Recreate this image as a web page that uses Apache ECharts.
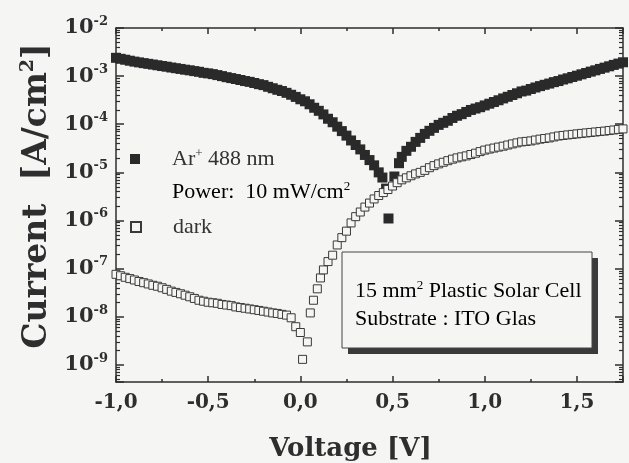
<!DOCTYPE html>
<html>
<head>
<meta charset="utf-8">
<style>
  html, body { margin: 0; padding: 0; background: #f5f5f3; }
  #chart-container { width: 629px; height: 463px; }
</style>
</head>
<body>
<div id="chart-container"></div>
<script src="https://cdn.jsdelivr.net/npm/echarts@6.0.0/dist/echarts.min.js"></script>
<script>
const bg = "#f5f5f3"
const ink = "#2e2e2e"
const boldFont = "DejaVu Serif"
const plainFont = "Liberation Serif"

// axis ranges and tick values
const xRange = [-1.0, 1.75]
const xMajorTicks = [-1.0, -0.5, 0.0, 0.5, 1.0, 1.5]
const yRange = [4.4e-10, 1e-2]
const yDecades = [-9, -8, -7, -6, -5, -4, -3, -2]

const lightName = "Ar+ 488 nm"
const darkName = "dark"

// [voltage V, current A/cm2]
const lightPoints = [
  [-1.000, 2.40e-3], [-0.975, 2.29e-3], [-0.950, 2.19e-3], [-0.925, 2.09e-3],
  [-0.900, 2.00e-3], [-0.875, 1.93e-3], [-0.850, 1.86e-3], [-0.825, 1.80e-3],
  [-0.800, 1.74e-3], [-0.775, 1.68e-3], [-0.750, 1.62e-3], [-0.725, 1.57e-3],
  [-0.700, 1.51e-3], [-0.675, 1.46e-3], [-0.650, 1.41e-3], [-0.625, 1.36e-3],
  [-0.600, 1.32e-3], [-0.575, 1.27e-3], [-0.550, 1.23e-3], [-0.525, 1.17e-3],
  [-0.500, 1.14e-3], [-0.475, 1.10e-3], [-0.450, 1.05e-3], [-0.425, 1.00e-3],
  [-0.400, 9.5e-4], [-0.375, 9.1e-4], [-0.350, 8.7e-4], [-0.325, 8.3e-4],
  [-0.300, 7.9e-4], [-0.275, 7.6e-4], [-0.250, 7.2e-4], [-0.225, 6.8e-4],
  [-0.200, 6.5e-4], [-0.175, 6.0e-4], [-0.150, 5.6e-4], [-0.125, 5.2e-4],
  [-0.100, 4.9e-4], [-0.075, 4.5e-4], [-0.050, 4.1e-4], [-0.025, 3.7e-4],
  [0.000, 3.3e-4], [0.025, 3.0e-4], [0.050, 2.6e-4], [0.075, 2.2e-4],
  [0.100, 1.9e-4], [0.125, 1.6e-4], [0.150, 1.3e-4], [0.175, 1.1e-4],
  [0.200, 8.9e-5], [0.225, 7.2e-5], [0.250, 5.8e-5], [0.275, 4.6e-5],
  [0.300, 3.7e-5], [0.325, 3.0e-5], [0.350, 2.3e-5], [0.375, 1.8e-5],
  [0.400, 1.4e-5], [0.425, 1.0e-5], [0.445, 7.8e-6], [0.465, 4.6e-6],
  [0.478, 1.1e-6], [0.510, 8.2e-6], [0.535, 1.55e-5], [0.550, 2.1e-5],
  [0.575, 2.8e-5], [0.600, 3.4e-5], [0.625, 4.3e-5], [0.650, 5.2e-5],
  [0.675, 6.3e-5], [0.700, 7.3e-5], [0.725, 8.4e-5], [0.750, 9.7e-5],
  [0.775, 1.07e-4], [0.800, 1.18e-4], [0.825, 1.35e-4], [0.850, 1.50e-4],
  [0.875, 1.62e-4], [0.900, 1.80e-4], [0.925, 1.98e-4], [0.950, 2.12e-4],
  [0.975, 2.26e-4], [1.000, 2.46e-4], [1.025, 2.67e-4], [1.050, 2.90e-4],
  [1.075, 3.15e-4], [1.100, 3.44e-4], [1.125, 3.72e-4], [1.150, 4.05e-4],
  [1.175, 4.40e-4], [1.200, 4.80e-4], [1.225, 5.00e-4], [1.250, 5.40e-4],
  [1.275, 5.80e-4], [1.300, 6.20e-4], [1.325, 6.60e-4], [1.350, 7.00e-4],
  [1.375, 7.50e-4], [1.400, 7.90e-4], [1.425, 8.50e-4], [1.450, 9.00e-4],
  [1.475, 9.60e-4], [1.500, 1.02e-3], [1.525, 1.09e-3], [1.550, 1.16e-3],
  [1.575, 1.24e-3], [1.600, 1.32e-3], [1.625, 1.41e-3], [1.650, 1.50e-3],
  [1.675, 1.60e-3], [1.700, 1.71e-3], [1.725, 1.82e-3], [1.750, 1.94e-3]
]

const darkPoints = [
  [-1.000, 7.6e-8], [-0.975, 7.1e-8], [-0.950, 6.6e-8], [-0.925, 6.2e-8],
  [-0.900, 5.8e-8], [-0.875, 5.4e-8], [-0.850, 5.1e-8], [-0.825, 4.8e-8],
  [-0.800, 4.5e-8], [-0.775, 4.3e-8], [-0.750, 4.0e-8], [-0.725, 3.7e-8],
  [-0.700, 3.4e-8], [-0.675, 3.2e-8], [-0.650, 3.0e-8], [-0.625, 2.8e-8],
  [-0.600, 2.6e-8], [-0.575, 2.4e-8], [-0.550, 2.2e-8], [-0.525, 2.1e-8],
  [-0.500, 2.0e-8], [-0.475, 1.95e-8], [-0.450, 1.9e-8], [-0.425, 1.8e-8],
  [-0.400, 1.75e-8], [-0.375, 1.7e-8], [-0.350, 1.6e-8], [-0.325, 1.55e-8],
  [-0.300, 1.5e-8], [-0.275, 1.45e-8], [-0.250, 1.4e-8], [-0.225, 1.35e-8],
  [-0.200, 1.3e-8], [-0.175, 1.25e-8], [-0.150, 1.2e-8], [-0.125, 1.17e-8],
  [-0.100, 1.12e-8], [-0.075, 1.08e-8], [-0.050, 9.5e-9], [-0.025, 6.2e-9],
  [0.000, 4.7e-9], [0.012, 1.3e-9], [0.038, 3.0e-9], [0.054, 1.2e-8],
  [0.071, 2.2e-8], [0.092, 3.8e-8], [0.109, 6.4e-8], [0.125, 9.4e-8],
  [0.150, 1.4e-7], [0.175, 1.9e-7], [0.200, 3.1e-7], [0.225, 4.4e-7],
  [0.250, 6.0e-7], [0.275, 8.9e-7], [0.300, 1.2e-6], [0.325, 1.5e-6],
  [0.350, 1.9e-6], [0.375, 2.3e-6], [0.400, 2.8e-6], [0.425, 3.3e-6],
  [0.450, 3.8e-6], [0.475, 4.4e-6], [0.500, 5.2e-6], [0.525, 6.1e-6],
  [0.550, 7.0e-6], [0.575, 7.7e-6], [0.600, 8.5e-6], [0.625, 9.3e-6],
  [0.650, 1.0e-5], [0.675, 1.1e-5], [0.700, 1.25e-5], [0.725, 1.38e-5],
  [0.750, 1.5e-5], [0.775, 1.62e-5], [0.800, 1.75e-5], [0.825, 1.88e-5],
  [0.850, 2.0e-5], [0.875, 2.1e-5], [0.900, 2.2e-5], [0.925, 2.35e-5],
  [0.950, 2.5e-5], [0.975, 2.7e-5], [1.000, 2.9e-5], [1.025, 3.05e-5],
  [1.050, 3.2e-5], [1.075, 3.35e-5], [1.100, 3.5e-5], [1.125, 3.7e-5],
  [1.150, 3.9e-5], [1.175, 4.1e-5], [1.200, 4.3e-5], [1.225, 4.4e-5],
  [1.250, 4.5e-5], [1.275, 4.7e-5], [1.300, 4.9e-5], [1.325, 5.05e-5],
  [1.350, 5.2e-5], [1.375, 5.45e-5], [1.400, 5.7e-5], [1.425, 5.85e-5],
  [1.450, 6.0e-5], [1.475, 6.15e-5], [1.500, 6.3e-5], [1.525, 6.45e-5],
  [1.550, 6.6e-5], [1.575, 6.75e-5], [1.600, 6.9e-5], [1.625, 7.05e-5],
  [1.650, 7.2e-5], [1.675, 7.4e-5], [1.700, 7.6e-5], [1.725, 7.8e-5],
  [1.750, 8.0e-5]
]

var dom = document.getElementById("chart-container")
var myChart = echarts.init(dom, null, { renderer: "canvas" })

const plainRich = {
  n: { fontFamily: plainFont, fontSize: 22, color: "#333", lineHeight: 24 },
  p: { fontFamily: plainFont, fontSize: 22, color: "#333", lineHeight: 24, padding: [0, 0, 0, 27] },
  s: { fontFamily: plainFont, fontSize: 13, color: "#333", lineHeight: 12, verticalAlign: "top" }
}

const axisLineStyle = { color: ink, width: 1.5 }
const majorTickStyle = { color: ink, width: 1.5 }

const commonXAxis = {
  type: "value",
  min: xRange[0],
  max: xRange[1],
  splitLine: { show: false },
  axisLabel: { show: false },
  axisLine: { show: true, onZero: false, lineStyle: axisLineStyle },
  axisTick: { show: true, inside: true, length: 6, lineStyle: majorTickStyle }
}

const minorXTick = { show: true, inside: true, length: 3, lineStyle: majorTickStyle }

const commonYAxis = {
  type: "log",
  logBase: 10,
  min: yRange[0],
  max: yRange[1],
  splitLine: { show: false },
  axisLabel: { show: false },
  axisLine: { show: true, onZero: false, lineStyle: axisLineStyle },
  axisTick: { show: true, inside: true, length: 8, lineStyle: majorTickStyle },
  minorTick: { show: true, splitNumber: 9, length: 4, lineStyle: { color: ink, width: 1.2 } },
  minorSplitLine: { show: false }
}

const legendBase = {
  orient: "vertical",
  left: 130,
  padding: 0,
  itemWidth: 10,
  itemHeight: 10,
  selectedMode: false,
  textStyle: { rich: plainRich }
}

var option = {
  animation: false,
  backgroundColor: bg,
  grid: { left: 116, right: 6, top: 28, bottom: 81, containLabel: false, outerBoundsMode: "none" },
  legend: [
    {
      ...legendBase,
      top: 147,
      data: [lightName],
      formatter: () => "{p|Ar}{s|+}{n| 488 nm}"
    },
    {
      ...legendBase,
      top: 216,
      data: [darkName],
      formatter: (name) => `{p|${name}}`
    }
  ],
  xAxis: [
    {
      ...commonXAxis,
      position: "bottom",
      interval: 0.5,
      name: "Voltage [V]",
      nameLocation: "middle",
      nameGap: 54,
      nameTextStyle: {
        fontFamily: boldFont,
        fontWeight: "bold",
        fontSize: 26,
        color: ink,
        padding: [0, 38, 0, 0]
      },
      axisLabel: {
        show: true,
        margin: 11,
        fontFamily: boldFont,
        fontWeight: "bold",
        fontSize: 20,
        color: ink,
        formatter: (value) => {
          const hit = xMajorTicks.find((t) => Math.abs(t - value) < 1e-6)
          if (hit === undefined) return ""
          return hit.toFixed(1).replace(".", ",")
        }
      }
    },
    {
      ...commonXAxis,
      position: "bottom",
      interval: 0.25,
      axisLine: { show: false, onZero: false },
      axisTick: minorXTick
    },
    { ...commonXAxis, position: "top", interval: 0.5 },
    {
      ...commonXAxis,
      position: "top",
      interval: 0.25,
      axisLine: { show: false, onZero: false },
      axisTick: minorXTick
    }
  ],
  yAxis: [
    {
      ...commonYAxis,
      position: "left",
      name: "{n|Current  [A/cm}{s|2}{n|]}",
      nameLocation: "middle",
      nameRotate: 90,
      nameGap: 57,
      nameTextStyle: {
        padding: [0, 0, 0, 18],
        rich: {
          n: { fontFamily: boldFont, fontWeight: "bold", fontSize: 33, color: ink, lineHeight: 36 },
          s: { fontFamily: boldFont, fontWeight: "bold", fontSize: 19, color: ink, lineHeight: 18, verticalAlign: "top" }
        }
      },
      axisLabel: {
        show: true,
        margin: 8,
        formatter: (value) => {
          const lg = Math.log10(value)
          const exp = Math.round(lg)
          if (Math.abs(lg - exp) > 1e-6 || !yDecades.includes(exp)) return ""
          return `{b|10}{s|${exp}}`
        },
        rich: {
          b: { fontFamily: boldFont, fontWeight: "bold", fontSize: 21, color: ink, lineHeight: 26 },
          s: { fontFamily: boldFont, fontWeight: "bold", fontSize: 13, color: ink, lineHeight: 12, verticalAlign: "top" }
        }
      }
    },
    { ...commonYAxis, position: "right" }
  ],
  graphic: [
    {
      type: "text",
      x: 172,
      y: 192,
      z: 10,
      style: { text: "{n|Power:  10 mW/cm}{s|2}", rich: plainRich, verticalAlign: "middle" }
    },
    {
      type: "rect",
      z: 10,
      shape: { x: 348, y: 258, width: 250, height: 96 },
      style: { fill: "#3a3a3a" }
    },
    {
      type: "rect",
      z: 11,
      shape: { x: 342, y: 252, width: 250, height: 96 },
      style: { fill: bg, stroke: "#444", lineWidth: 1 }
    },
    {
      type: "text",
      x: 355,
      y: 291,
      z: 12,
      style: { text: "{n|15 mm}{s|2}{n| Plastic Solar Cell}", rich: plainRich, verticalAlign: "middle" }
    },
    {
      type: "text",
      x: 355,
      y: 319,
      z: 12,
      style: { text: "{n|Substrate : ITO Glas}", rich: plainRich, verticalAlign: "middle" }
    }
  ],
  series: [
    {
      name: lightName,
      type: "scatter",
      clip: false,
      symbol: "rect",
      symbolSize: 10,
      itemStyle: { color: "#2a2a2a", opacity: 1 },
      data: lightPoints
    },
    {
      name: darkName,
      type: "scatter",
      clip: false,
      symbol: "rect",
      symbolSize: 8,
      itemStyle: { color: bg, borderColor: "#3a3a3a", borderWidth: 1, opacity: 1 },
      data: darkPoints
    }
  ]
}

myChart.setOption(option)
window.addEventListener("resize", myChart.resize)
</script>
</body>
</html>
